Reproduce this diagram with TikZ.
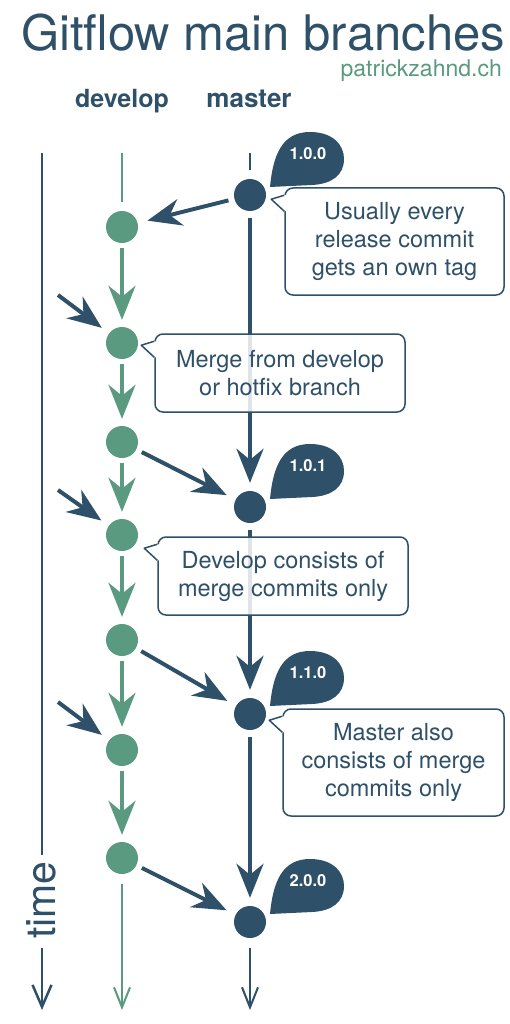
\documentclass[tikz,border=0pt]{standalone}
\usepackage{fontspec}
\setmainfont{TeX Gyre Heros}
\usetikzlibrary{arrows.meta,calc}
\definecolor{gfblue}{RGB}{46,80,104}
\definecolor{gfgreen}{RGB}{90,154,128}

\begin{document}
\begin{tikzpicture}[x=1pt, y=-1pt,
	devnode/.style={circle, fill=gfgreen, minimum size=32pt, inner sep=0pt},
	masternode/.style={circle, fill=gfblue, minimum size=32pt, inner sep=0pt},
	bigtip/.style={-{Stealth[length=34pt,width=27pt,inset=11pt]}},
	devflow/.style={gfgreen, line width=4pt, bigtip, shorten <=5pt, shorten >=7pt},
	masterflow/.style={gfblue, line width=4pt, bigtip, shorten <=7pt, shorten >=8pt},
	merge/.style={gfblue, line width=4pt, bigtip, shorten <=6pt, shorten >=10pt},
	thinline/.style={line width=2pt, -{Straight Barb[length=20pt,width=16pt]}},
	callout/.style={draw=gfblue, line width=1.5pt, rounded corners=8pt, fill=white, fill opacity=0.85, text opacity=1, text=gfblue, align=center, font=\fontsize{23.5}{28}\selectfont, inner sep=0pt},
	tagtext/.style={text=white, font=\bfseries\fontsize{16.5}{18}\selectfont}]
	\useasboundingbox (0,0) rectangle (510,1024);
	% headings
	\node[anchor=base, text=gfblue, text depth=0pt, inner sep=0pt, font=\fontsize{49}{55}\selectfont] (title) at (263,51) {Gitflow main branches};
	\node[anchor=base east, text=gfgreen, inner sep=0pt, font=\fontsize{23}{26}\selectfont] (site) at (502,77) {patrickzahnd.ch};
	\node[anchor=base, text=gfblue, font=\bfseries\fontsize{25}{30}\selectfont] (devlbl) at (122,108) {develop};
	\node[anchor=base, text=gfblue, font=\bfseries\fontsize{26}{30}\selectfont] (masterlbl) at (249,108) {master};
	% time axis
	\coordinate (ttop) at (42,153);
	\coordinate (tgap) at (42,855);
	\coordinate (tresume) at (42,948);
	\coordinate (tend) at (42,1010);
	\draw[gfblue, line width=2.5pt] (ttop) -- (tgap);
	\draw[gfblue, line width=2.5pt, -{Straight Barb[length=22pt,width=19pt]}] (tresume) -- (tend);
	\node[rotate=90, text=gfblue, font=\fontsize{41}{44}\selectfont] (timelbl) at (41,900) {time};
	% commits
	\foreach \i/\y in {1/227,2/343,3/442,4/535,5/640,6/750,7/858}
		\node[devnode] (d\i) at (122,\y) {};
	\foreach \i/\y in {1/195,2/507,3/714,4/922}
		\node[masternode] (m\i) at (250,\y) {};
	% branch lines
	\coordinate (devtop) at (122,153);
	\coordinate (devend) at (122,1010);
	\coordinate (mastertop) at (250,153);
	\coordinate (masterend) at (250,1010);
	\draw[gfgreen, line width=2pt, shorten >=9pt] (devtop) -- (d1);
	\draw[gfblue, line width=2pt, shorten >=9pt] (mastertop) -- (m1);
	\draw[gfgreen, thinline, shorten <=10pt] (d7) -- (devend);
	\draw[gfblue, thinline, shorten <=10pt] (m4) -- (masterend);
	\foreach \i/\j in {1/2,2/3,3/4,4/5,5/6,6/7}
		\draw[devflow] (d\i) -- (d\j);
	\foreach \i/\j in {1/2,2/3,3/4}
		\draw[masterflow] (m\i) -- (m\j);
	% merges
	\draw[merge] (m1) -- (d1);
	\draw[merge] (d3) -- (m2);
	\draw[merge] (d5) -- (m3);
	\draw[merge] (d7) -- (m4);
	\coordinate (in1) at (58,295);
	\coordinate (in2) at (58,490);
	\coordinate (in3) at (58,702);
	\draw[merge, shorten <=0pt, shorten >=9pt] (in1) -- (d2);
	\draw[merge, shorten <=0pt, shorten >=9pt] (in2) -- (d4);
	\draw[merge, shorten <=0pt, shorten >=9pt] (in3) -- (d6);
	% tags
	\foreach \m/\v in {m1/1.0.0,m2/1.0.1,m3/1.1.0,m4/2.0.0}{
		\begin{scope}[shift={(\m)}]
			\fill[gfblue] (20,-8) .. controls (23,-40) and (32,-63) .. (60,-63)
				.. controls (83,-63) and (94,-50) .. (94,-36)
				.. controls (94,-20) and (82,-11) .. (62,-10) -- cycle;
			\node[tagtext] (tag\m) at (58,-41) {\v};
		\end{scope}
	}
	% callouts
	\node[callout, minimum width=219pt, minimum height=107pt] (c1) at (394.5,241.5) {Usually every\\release commit\\gets an own tag};
	\node[callout, minimum width=250pt, minimum height=78pt] (c2) at (280,373) {Merge from develop\\or hotfix branch};
	\node[callout, minimum width=250pt, minimum height=78pt] (c3) at (283,576) {Develop consists of\\merge commits only};
	\node[callout, minimum width=221pt, minimum height=107pt] (c4) at (393.5,762.5) {Master also\\consists of merge\\commits only};
	\foreach \c in {c1,c2,c3,c4}{
		\coordinate (a) at ($(\c.north west)+(0,8)$);
		\coordinate (b) at ($(\c.north west)+(0,24)$);
		\coordinate (tip\c) at ($(\c.north west)+(-13,12)$);
		\fill[white] (a) -- (tip\c) -- (b) -- ($(b)+(3,0)$) -- ($(a)+(3,0)$) -- cycle;
		\draw[gfblue, line width=1.5pt, line join=round] (a) -- (tip\c) -- (b);
	}
\end{tikzpicture}
\end{document}
